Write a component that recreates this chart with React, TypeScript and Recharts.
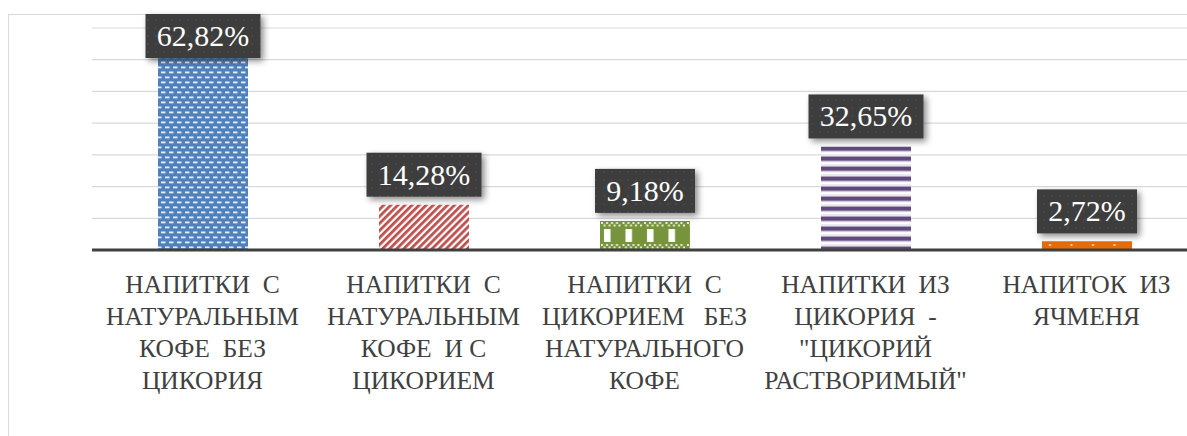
import React from 'react';
import { BarChart, Bar, XAxis, YAxis, CartesianGrid, Cell, LabelList } from 'recharts';

const categories = [
    'Напитки с натуральным кофе без цикория',
    'Напитки с натуральным кофе и с цикорием',
    'Напитки с цикорием без натурального кофе',
    'Напитки из цикория - "Цикорий растворимый"',
    'Напиток из ячменя',
];
const tickLines = [
    ['НАПИТКИ  С', 'НАТУРАЛЬНЫМ', 'КОФЕ  БЕЗ', 'ЦИКОРИЯ'],
    ['НАПИТКИ  С', 'НАТУРАЛЬНЫМ', 'КОФЕ  И С', 'ЦИКОРИЕМ'],
    ['НАПИТКИ  С', 'ЦИКОРИЕМ   БЕЗ', 'НАТУРАЛЬНОГО', 'КОФЕ'],
    ['НАПИТКИ  ИЗ', 'ЦИКОРИЯ  -', '"ЦИКОРИЙ', 'РАСТВОРИМЫЙ"'],
    ['НАПИТОК  ИЗ', 'ЯЧМЕНЯ'],
];
const values = [62.82, 14.28, 9.18, 32.65, 2.72];
const yTicks = [0, 10, 20, 30, 40, 50, 60, 70];
const patternIds = ['pBlue', 'pRed', 'pGreen', 'pPurple', 'pOrange'];

const data = categories.map((name, i) => ({ name, value: values[i] }));

const serif = "'Liberation Serif'";

const CategoryTick = (props: any) => {
    const { x, y, payload } = props;
    const lines = tickLines[payload.index] || [];
    return (
        <g transform={`translate(${x},${y})`}>
            <text textAnchor="middle" fill="#404040" xmlSpace="preserve" style={{ whiteSpace: 'pre', fontFamily: serif, fontSize: 25.5 }}>
                {lines.map((l, i) => (
                    <tspan key={i} x={0} y={35 + i * 32}>{l}</tspan>
                ))}
            </text>
        </g>
    );
};

const ValueLabel = (props: any) => {
    const { x, y, width, value } = props;
    const text = Number(value).toFixed(2).replace('.', ',') + '%';
    const w = text.length > 5 ? 115 : 100;
    const h = 44;
    const cx = x + width / 2;
    let top = y - 8 - h;
    if (top < 14) top = 14;
    return (
        <g>
            <rect x={cx - w / 2} y={top} width={w} height={h} fill="url(#pLabel)" filter="url(#labelShadow)" />
            <text x={cx} y={top + h / 2 + 10} textAnchor="middle" fill="#ffffff" style={{ fontFamily: serif, fontSize: 30 }}>
                {text}
            </text>
        </g>
    );
};

export default function App() {
    return (
        <div style={{ position: 'absolute', left: 0, top: 0, width: 1187, height: 436, overflow: 'hidden', background: '#fff' }}>
            <div style={{ position: 'absolute', left: 8, top: 14, width: 1300, height: 500, borderLeft: '1px solid #d9d9d9', borderTop: '1px solid #d9d9d9' }} />
            <div style={{ position: 'absolute', left: 0, top: 0 }}>
                <BarChart width={1197} height={436} data={data} margin={{ top: 28, right: 0, left: 92, bottom: 0 }} barSize={90}>
                    <defs>
                        <pattern id="pBlue" width="8" height="10" patternUnits="userSpaceOnUse">
                            <rect width="8" height="10" fill="#4f81bd" />
                            <rect x="1" y="1.5" width="4.5" height="1.8" fill="#e8eef8" />
                            <rect x="5" y="6.5" width="4.5" height="1.8" fill="#e8eef8" />
                            <rect x="-3" y="6.5" width="4.5" height="1.8" fill="#e8eef8" />
                        </pattern>
                        <pattern id="pRed" width="5" height="5" patternUnits="userSpaceOnUse" patternTransform="rotate(45)">
                            <rect width="5" height="5" fill="#ffffff" />
                            <rect width="2.8" height="5" fill="#c0504d" />
                        </pattern>
                        <pattern id="pGreen" width="21.5" height="30" patternUnits="userSpaceOnUse" x="600" y="221">
                            <rect width="21.5" height="30" fill="#77933c" />
                            <rect x="1" y="1" width="2" height="2" fill="#e6eed8" />
                            <rect x="6" y="1" width="2" height="2" fill="#e6eed8" />
                            <rect x="11" y="1" width="2" height="2" fill="#e6eed8" />
                            <rect x="16" y="1" width="2" height="2" fill="#e6eed8" />
                            <rect x="3.5" y="3.5" width="2" height="2" fill="#e6eed8" />
                            <rect x="8.5" y="3.5" width="2" height="2" fill="#e6eed8" />
                            <rect x="13.5" y="3.5" width="2" height="2" fill="#e6eed8" />
                            <rect x="18.5" y="3.5" width="2" height="2" fill="#e6eed8" />
                            <rect x="4" y="8" width="6.5" height="13" fill="#ffffff" />
                            <rect x="1" y="23" width="2" height="2" fill="#e6eed8" />
                            <rect x="6" y="23" width="2" height="2" fill="#e6eed8" />
                            <rect x="11" y="23" width="2" height="2" fill="#e6eed8" />
                            <rect x="16" y="23" width="2" height="2" fill="#e6eed8" />
                            <rect x="3.5" y="25.5" width="2" height="2" fill="#e6eed8" />
                            <rect x="8.5" y="25.5" width="2" height="2" fill="#e6eed8" />
                            <rect x="13.5" y="25.5" width="2" height="2" fill="#e6eed8" />
                            <rect x="18.5" y="25.5" width="2" height="2" fill="#e6eed8" />
                        </pattern>
                        <pattern id="pPurple" width="10" height="10" patternUnits="userSpaceOnUse" y="146.5">
                            <rect width="10" height="10" fill="#ffffff" />
                            <rect y="0" width="10" height="4" fill="#604a7b" />
                            <rect y="4" width="10" height="1.2" fill="#b4a7c6" />
                            <rect y="8" width="10" height="1.2" fill="#d9d2e3" />
                        </pattern>
                        <pattern id="pOrange" width="21.5" height="10" patternUnits="userSpaceOnUse" x="1040" y="241">
                            <rect width="21.5" height="10" fill="#e46c0a" />
                            <rect x="9" y="3" width="2" height="2" fill="#f8d3b3" />
                        </pattern>
                        <pattern id="pLabel" width="8" height="8" patternUnits="userSpaceOnUse">
                            <rect width="8" height="8" fill="#3c3c3c" />
                            <circle cx="4" cy="4" r="1" fill="#4a4a4a" />
                        </pattern>
                        <filter id="labelShadow" x="-20%" y="-20%" width="150%" height="160%">
                            <feDropShadow dx="3" dy="3" stdDeviation="3" floodColor="#000" floodOpacity="0.45" />
                        </filter>
                    </defs>
                    <CartesianGrid vertical={false} stroke="#d9d9d9" strokeWidth={1.2} />
                    <YAxis hide domain={[0, 70]} ticks={yTicks} />
                    <XAxis
                        dataKey="name"
                        height={186}
                        interval={0}
                        tickLine={false}
                        axisLine={{ stroke: '#404040', strokeWidth: 3 }}
                        tick={<CategoryTick />}
                    />
                    <Bar dataKey="value" isAnimationActive={false}>
                        {data.map((entry, index) => (
                            <Cell key={`cell-${index}`} fill={`url(#${patternIds[index]})`} />
                        ))}
                        <LabelList dataKey="value" content={<ValueLabel />} />
                    </Bar>
                </BarChart>
            </div>
        </div>
    );
}
